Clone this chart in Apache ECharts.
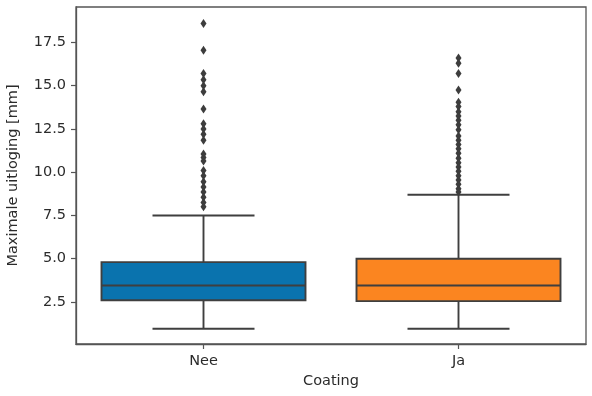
<!DOCTYPE html>
<html>
<head>
<meta charset="utf-8">
<script src="https://cdn.jsdelivr.net/npm/echarts@6/dist/echarts.min.js"></script>
<style>html,body{margin:0;padding:0;background:#fff}#c{width:592px;height:396px}</style>
</head>
<body>
<div id="c"></div>
<script>
var categories = ['Nee', 'Ja'];
var whiskerLow = [0.95, 0.95];
var q1 = [2.6, 2.55];
var median = [3.45, 3.45];
var q3 = [4.8, 5.0];
var whiskerHigh = [7.5, 8.7];
var boxColors = ['#0a73ae', '#fb8520'];
var outliersNee = [18.6, 17.05, 15.7, 15.35, 15.0, 14.65, 13.65, 12.8, 12.5, 12.2, 11.85, 11.05, 10.85, 10.65, 10.1, 9.8, 9.45, 9.15, 8.85, 8.55, 8.25, 8.0];
var outliersJa = [16.6, 16.3, 15.7, 14.75, 14.05, 13.8, 13.5, 13.25, 13.0, 12.75, 12.45, 12.1, 11.85, 11.6, 11.35, 11.1, 10.8, 10.55, 10.3, 10.05, 9.8, 9.55, 9.3, 9.05, 8.85];
var yTicks = [2.5, 5.0, 7.5, 10.0, 12.5, 15.0, 17.5];

var boxData = categories.map(function (c, i) {
  return [i, whiskerLow[i], q1[i], median[i], q3[i], whiskerHigh[i]];
});
var outlierData = [];
outliersNee.forEach(function (v) { outlierData.push([0, v]); });
outliersJa.forEach(function (v) { outlierData.push([1, v]); });

var lineColor = '#3f3f3f';
var font = 'DejaVu Sans';
var fs = 14.5;
var txt = '#2b2b2b';

function renderBox(params, api) {
  var idx = api.value(0);
  var x = api.coord([idx, 0])[0];
  var band = api.size([1, 0])[0];
  var hw = band * 0.8 / 2;
  var cw = hw / 2;
  var yLo = api.coord([idx, api.value(1)])[1];
  var yQ1 = api.coord([idx, api.value(2)])[1];
  var yMed = api.coord([idx, api.value(3)])[1];
  var yQ3 = api.coord([idx, api.value(4)])[1];
  var yHi = api.coord([idx, api.value(5)])[1];
  var ls = { stroke: lineColor, lineWidth: 1.9 };
  return {
    type: 'group',
    children: [
      { type: 'line', shape: { x1: x, y1: yQ1, x2: x, y2: yLo }, style: ls },
      { type: 'line', shape: { x1: x, y1: yQ3, x2: x, y2: yHi }, style: ls },
      { type: 'line', shape: { x1: x - cw, y1: yLo, x2: x + cw, y2: yLo }, style: ls },
      { type: 'line', shape: { x1: x - cw, y1: yHi, x2: x + cw, y2: yHi }, style: ls },
      { type: 'rect', shape: { x: x - hw, y: yQ3, width: 2 * hw, height: yQ1 - yQ3 },
        style: { fill: boxColors[idx], stroke: lineColor, lineWidth: 1.9 } },
      { type: 'line', shape: { x1: x - hw, y1: yMed, x2: x + hw, y2: yMed }, style: ls }
    ]
  };
}

var chart = echarts.init(document.getElementById('c'), null, { renderer: 'canvas' });
chart.setOption({
  animation: false,
  backgroundColor: '#fff',
  grid: { left: 76, right: 6, top: 7, bottom: 52, show: true, borderColor: '#555', borderWidth: 1.3,
    containLabel: false, outerBoundsMode: 'none' },
  xAxis: {
    type: 'category',
    data: categories,
    boundaryGap: true,
    name: 'Coating',
    nameLocation: 'middle',
    nameGap: 27,
    nameTextStyle: { fontFamily: font, fontSize: fs, color: txt },
    axisLine: { show: true, lineStyle: { color: '#555', width: 1.3 } },
    axisTick: { show: true, alignWithLabel: true, length: 5, lineStyle: { color: '#555', width: 1.2 } },
    axisLabel: { fontFamily: font, fontSize: fs, color: txt, margin: 10 },
    splitLine: { show: false }
  },
  yAxis: {
    type: 'value',
    min: 0.07,
    max: 19.55,
    name: 'Maximale uitloging [mm]',
    nameLocation: 'middle',
    nameGap: 55,
    nameTextStyle: { fontFamily: font, fontSize: fs, color: txt },
    axisLine: { show: true, lineStyle: { color: '#555', width: 1.3 } },
    axisTick: { show: true, length: 5, customValues: yTicks, lineStyle: { color: '#555', width: 1.2 } },
    axisLabel: { fontFamily: font, fontSize: fs, color: txt, margin: 10, customValues: yTicks,
      formatter: function (v) { return Number(v).toFixed(1); } },
    splitLine: { show: false }
  },
  series: [
    {
      type: 'custom',
      renderItem: renderBox,
      data: boxData,
      encode: { x: 0, y: [1, 2, 3, 4, 5] },
      z: 2
    },
    {
      type: 'scatter',
      data: outlierData,
      symbol: 'diamond',
      symbolSize: [6, 9],
      itemStyle: { color: '#3d3d3d', opacity: 1 },
      z: 3
    }
  ]
});
</script>
</body>
</html>
